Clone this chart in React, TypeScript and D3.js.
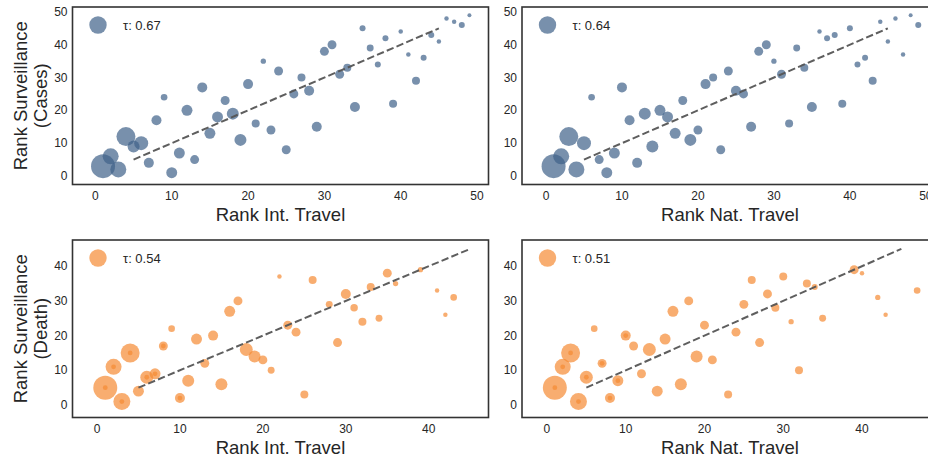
import React from "react";
import * as d3 from "d3";

// ---- data (ranks) ----
// cases panels: index i -> surveillance rank (cases) i + 1
const caseSurvRank = [
  1, 2, 3, 4, 5, 6, 7, 8, 9, 10, 11, 12, 13, 14, 15, 16, 17, 18, 19, 20, 21, 22, 23, 24, 25,
  26, 27, 28, 29, 30, 31, 32, 33, 34, 35, 36, 37, 38, 39, 40, 41, 42, 43, 44, 45, 46, 47, 48, 49,
];
const caseIntRank = [
  10, 3, 1, 7, 13, 2, 11, 25, 5, 6, 19, 4, 15, 23, 29, 21, 8, 16, 18, 12, 34, 39, 17, 9, 26,
  28, 14, 20, 42, 27, 32, 24, 33, 37, 22, 43, 41, 30, 36, 31, 45, 38, 44, 40, 35, 48, 47, 46, 49,
];
const caseNatRank = [
  8, 4, 1, 12, 7, 2, 9, 23, 14, 5, 19, 3, 17, 20, 27, 32, 11, 16, 13, 15, 35, 39, 18, 6, 26,
  25, 10, 21, 43, 22, 31, 24, 34, 41, 30, 42, 47, 28, 33, 29, 45, 37, 38, 36, 40, 49, 44, 46, 48,
];
// bubble weight (area-like)
const caseWeight = [
  30, 64, 144, 25, 20, 64, 30, 20, 36, 49, 36, 90, 30, 20, 25, 16, 25, 30, 36, 30, 25, 16, 20, 11, 20,
  25, 25, 25, 16, 16, 20, 20, 16, 9, 7, 9, 5, 20, 12, 20, 5, 9, 9, 5, 9, 9, 5, 5, 4,
];

// death panels: index i -> surveillance rank (death) i + 1
const deathSurvRank = [
  1, 2, 3, 4, 5, 6, 7, 8, 9, 10, 11, 12, 13, 14, 15, 16, 17, 18, 19, 20,
  21, 22, 23, 24, 25, 26, 27, 28, 29, 30, 31, 32, 33, 34, 35, 36, 37, 38, 39,
];
const deathIntRank = [
  3, 10, 25, 5, 1, 15, 11, 6, 7, 21, 2, 13, 20, 19, 4, 18, 8, 29, 12, 14,
  24, 9, 23, 32, 34, 42, 16, 31, 28, 17, 43, 30, 41, 33, 36, 26, 22, 35, 39,
];
const deathNatRank = [
  4, 8, 23, 14, 1, 17, 9, 5, 12, 32, 2, 7, 21, 19, 3, 13, 11, 27, 15, 10,
  24, 6, 20, 31, 35, 43, 16, 29, 25, 18, 42, 28, 47, 34, 33, 26, 30, 40, 39,
];
const deathWeightInt = [
  72, 25, 16, 30, 144, 36, 36, 42, 30, 12, 64, 20, 20, 36, 90, 42, 20, 20, 30, 25,
  20, 11, 20, 16, 12, 5, 30, 14, 12, 20, 11, 25, 5, 16, 7, 16, 5, 20, 7,
];
const deathWeightNat = [
  72, 25, 16, 30, 144, 36, 30, 42, 20, 16, 64, 20, 20, 36, 90, 42, 20, 20, 30, 25,
  20, 11, 20, 7, 12, 5, 30, 16, 20, 20, 7, 20, 11, 9, 16, 16, 16, 5, 20,
];
// death ranks whose bubble carries a small inner dot
const deathDotInt = [1, 2, 5, 8, 9, 11, 15, 17];
const deathDotNat = [1, 2, 5, 7, 8, 11, 12, 15, 20];

const tauValues = ["0.67", "0.64", "0.54", "0.51"];
const xTicksTop = [0, 10, 20, 30, 40, 50];
const yTicksTop = [0, 10, 20, 30, 40, 50];
const xTicksBottom = [0, 10, 20, 30, 40];
const yTicksBottom = [0, 10, 20, 30, 40];

// ---- style ----
const FONT = '"Liberation Sans", Arial, sans-serif';
const BLUE = "#3f6189";
const ORANGE = "#f58a33";
const ALPHA = 0.7;
const INK = "#262626";

const radius = d3.scaleSqrt().domain([0, 144]).range([0, 12]);

type PanelProps = {
  left: number;
  top: number;
  width: number;
  height: number;
  xDomain: [number, number];
  yDomain: [number, number];
  xs: number[];
  ys: number[];
  weights: number[];
  dots?: number[];
  color: string;
  xTicks: number[];
  yTicks: number[];
  xLabel: string;
  yLabel?: string[];
  tau: string;
};

function Panel(props: PanelProps) {
  const { left, top, width, height, xDomain, yDomain, xs, ys, weights, dots, color, xTicks, yTicks, xLabel, yLabel, tau } = props;
  const x = d3.scaleLinear().domain(xDomain).range([left, left + width]);
  const y = d3.scaleLinear().domain(yDomain).range([top + height, top]);
  const bottom = top + height;
  const dotSet = new Set(dots ?? []);

  return (
    <g>
      {xs.map((xv, i) => (
        <circle key={"c" + i} cx={x(xv)} cy={y(ys[i])} r={radius(weights[i])} fill={color} fillOpacity={ALPHA} />
      ))}
      {xs.map((xv, i) =>
        dotSet.has(ys[i]) ? (
          <circle key={"d" + i} cx={x(xv)} cy={y(ys[i])} r={2.4} fill={color} fillOpacity={ALPHA} />
        ) : null
      )}
      {/* identity reference line */}
      <line x1={x(5)} y1={y(5)} x2={x(45)} y2={y(45)} stroke="#555" strokeOpacity={0.95} strokeWidth={2} strokeDasharray="7.4,3.2" />
      {/* tau legend */}
      <circle cx={left + 25.5} cy={top + 18} r={8.7} fill={color} fillOpacity={ALPHA} />
      <text x={left + 50.5} y={top + 18} dominantBaseline="central" fontSize={13} fill={INK} fontFamily={FONT}>
        {"τ: " + tau}
      </text>
      {/* frame */}
      <rect x={left} y={top} width={width} height={height} fill="none" stroke="#333" strokeWidth={1.6} />
      {xTicks.map((t) => (
        <text key={"x" + t} x={x(t)} y={bottom + 15} textAnchor="middle" fontSize={12} fill={INK} fontFamily={FONT}>
          {t}
        </text>
      ))}
      {yTicks.map((t) => (
        <text key={"y" + t} x={left - 5} y={y(t)} textAnchor="end" dominantBaseline="central" fontSize={12} fill={INK} fontFamily={FONT}>
          {t}
        </text>
      ))}
      <text x={left + width / 2 > 900 ? 0 : left + 208} y={bottom + 36} textAnchor="middle" fontSize={18.5} fill={INK} fontFamily={FONT}>
        {xLabel}
      </text>
      {yLabel
        ? yLabel.map((line, i) => (
            <text
              key={"yl" + i}
              transform={`translate(${20 + i * 20}, ${top + height / 2}) rotate(-90)`}
              textAnchor="middle"
              dominantBaseline="central"
              fontSize={18.5}
              fill={INK}
              fontFamily={FONT}
            >
              {line}
            </text>
          ))
        : null}
    </g>
  );
}

export default function App() {
  const W = 416;
  const H = 177.5;
  return (
    <svg width={928} height={459} style={{ position: "absolute", left: 0, top: 0, background: "#fff" }}>
      <rect width={928} height={459} fill="#fff" />
      <Panel
        left={72.5}
        top={7}
        width={W}
        height={H}
        xDomain={[-3.0, 51.5]}
        yDomain={[-2.6, 51.5]}
        xs={caseIntRank}
        ys={caseSurvRank}
        weights={caseWeight}
        color={BLUE}
        xTicks={xTicksTop}
        yTicks={yTicksTop}
        xLabel="Rank Int. Travel"
        yLabel={["Rank Surveillance", "(Cases)"]}
        tau={tauValues[0]}
      />
      <Panel
        left={522}
        top={7}
        width={W}
        height={H}
        xDomain={[-3.16, 51.6]}
        yDomain={[-2.6, 51.5]}
        xs={caseNatRank}
        ys={caseSurvRank}
        weights={caseWeight}
        color={BLUE}
        xTicks={xTicksTop}
        yTicks={yTicksTop}
        xLabel="Rank Nat. Travel"
        tau={tauValues[1]}
      />
      <Panel
        left={72.5}
        top={240}
        width={W}
        height={H}
        xDomain={[-2.95, 47.2]}
        yDomain={[-3.6, 47.55]}
        xs={deathIntRank}
        ys={deathSurvRank}
        weights={deathWeightInt}
        dots={deathDotInt}
        color={ORANGE}
        xTicks={xTicksBottom}
        yTicks={yTicksBottom}
        xLabel="Rank Int. Travel"
        yLabel={["Rank Surveillance", "(Death)"]}
        tau={tauValues[2]}
      />
      <Panel
        left={522}
        top={240}
        width={W}
        height={H}
        xDomain={[-3.17, 49.65]}
        yDomain={[-3.6, 47.55]}
        xs={deathNatRank}
        ys={deathSurvRank}
        weights={deathWeightNat}
        dots={deathDotNat}
        color={ORANGE}
        xTicks={xTicksBottom}
        yTicks={yTicksBottom}
        xLabel="Rank Nat. Travel"
        tau={tauValues[3]}
      />
    </svg>
  );
}
